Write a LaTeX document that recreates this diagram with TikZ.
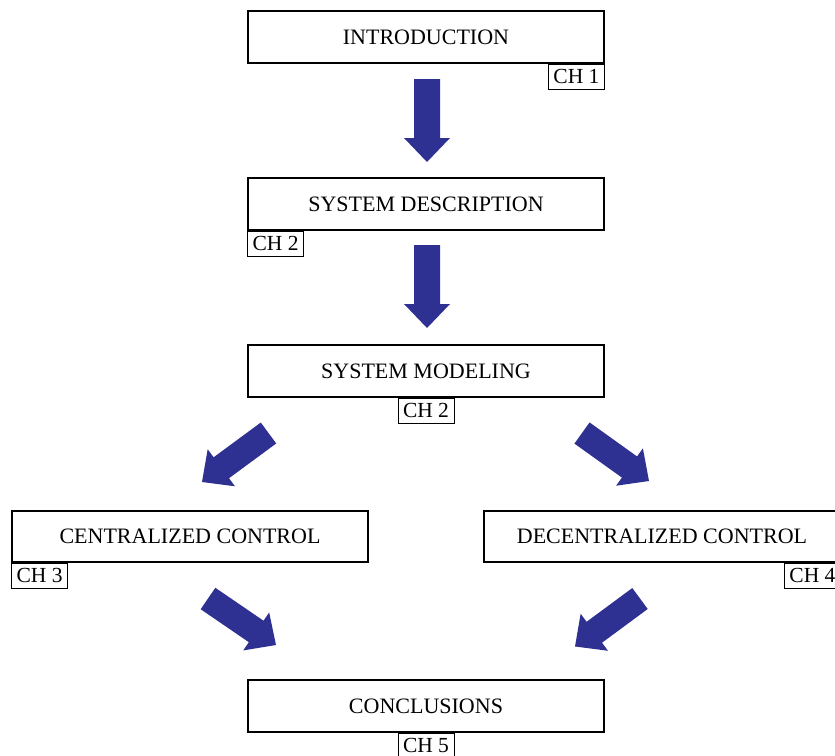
\documentclass[tikz,border=0pt]{standalone}
\usepackage{fontspec}
\setmainfont{Liberation Serif}
\usetikzlibrary{calc}
\definecolor{arrowblue}{RGB}{46,49,146}
\newcommand\blockarr[2]{%
  \path coordinate (hb) at ($(#2)!24pt!(#1)$);
  \fill[arrowblue] ($(#1)!13pt!90:(#2)$) -- ($(hb)!13pt!90:(#2)$) -- ($(hb)!23pt!90:(#2)$)
    -- (#2) -- ($(hb)!23pt!-90:(#2)$) -- ($(hb)!13pt!-90:(#2)$) -- ($(#1)!13pt!-90:(#2)$) -- cycle;
}
\begin{document}
\begin{tikzpicture}[x=1pt,y=-1pt,
  mainbox/.style={draw=black,line width=1.8pt,fill=white,minimum width=356pt,minimum height=52pt,inner sep=0pt,
    font=\fontsize{22}{24}\selectfont},
  chbox/.style={draw=black,line width=0.9pt,fill=white,minimum width=56pt,minimum height=25pt,inner sep=0pt,
    font=\fontsize{21.5}{24}\selectfont}]
\useasboundingbox (0,0) rectangle (835,755);
\clip (0,0) rectangle (835,755);
\node[mainbox] (intro) at (426,37) {INTRODUCTION};
\node[mainbox] (desc) at (426,204) {SYSTEM DESCRIPTION};
\node[mainbox] (model) at (426,371) {SYSTEM MODELING};
\node[mainbox,minimum height=51pt] (central) at (190,536.5) {CENTRALIZED CONTROL};
\node[mainbox,minimum height=51pt] (decentral) at (662,536.5) {DECENTRALIZED CONTROL};
\node[mainbox] (concl) at (426,706) {CONCLUSIONS};
\node[chbox,anchor=north east] (ch1) at (intro.south east) {CH 1};
\node[chbox,anchor=north west] (ch2a) at (desc.south west) {CH 2};
\node[chbox,anchor=north] (ch2b) at (model.south) {CH 2};
\node[chbox,anchor=north west] (ch3) at (central.south west) {CH 3};
\node[chbox,anchor=north east] (ch4) at (decentral.south east) {CH 4};
\node[chbox,anchor=north] (ch5) at (concl.south) {CH 5};
\coordinate (a1t) at (427,79);  \coordinate (a1h) at (427,162);
\coordinate (a2t) at (427,245); \coordinate (a2h) at (427,328);
\coordinate (a3t) at (268.5,433); \coordinate (a3h) at (202,482);
\coordinate (a4t) at (582,433); \coordinate (a4h) at (649,481);
\coordinate (a5t) at (208,598.5); \coordinate (a5h) at (276,645);
\coordinate (a6t) at (640,598.5); \coordinate (a6h) at (575,646.5);
\blockarr{a1t}{a1h}
\blockarr{a2t}{a2h}
\blockarr{a3t}{a3h}
\blockarr{a4t}{a4h}
\blockarr{a5t}{a5h}
\blockarr{a6t}{a6h}
\end{tikzpicture}
\end{document}
